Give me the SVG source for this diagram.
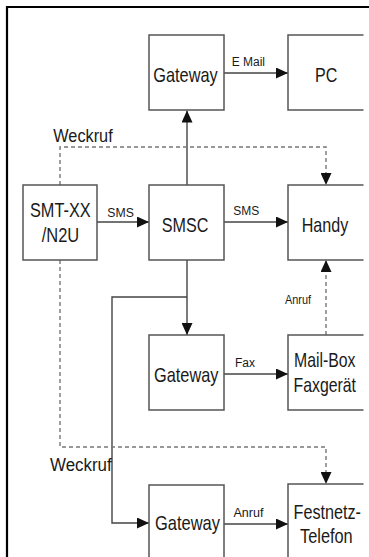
<svg xmlns="http://www.w3.org/2000/svg" width="369" height="557" viewBox="0 0 369 557">
<style>
.box{fill:#fff;stroke:#555;stroke-width:1.5}
.open{fill:none;stroke:#555;stroke-width:1.5}
.t{font-family:"Liberation Sans",Arial,sans-serif;font-size:21px;fill:#1a1a1a}
.w{font-family:"Liberation Sans",Arial,sans-serif;font-size:18px;fill:#1a1a1a}
.s{font-family:"Liberation Sans",Arial,sans-serif;font-size:12.5px;fill:#1a1a1a}
.c{fill:none;stroke:#444;stroke-width:1.4}
.d{fill:none;stroke:#777;stroke-width:1.4;stroke-dasharray:4 3}
</style>
<defs>
<marker id="ah" viewBox="0 0 12 11" refX="12" refY="5.5" markerWidth="12" markerHeight="11" markerUnits="userSpaceOnUse" orient="auto">
<path d="M0,0 L12,5.5 L0,11 Z" fill="#111"/>
</marker>
</defs>
<rect width="369" height="557" fill="#fff"/>
<path d="M7,557 V7 H369" fill="none" stroke="#000" stroke-width="2.2"/>

<g id="connectors">
<line class="c" x1="187" y1="185" x2="187" y2="110.5" marker-end="url(#ah)"/>
<line class="c" x1="224" y1="73" x2="288" y2="73" marker-end="url(#ah)"/>
<line class="c" x1="97" y1="222" x2="149" y2="222" marker-end="url(#ah)"/>
<line class="c" x1="224" y1="222" x2="288" y2="222" marker-end="url(#ah)"/>
<line class="c" x1="187" y1="260" x2="187" y2="335" marker-end="url(#ah)"/>
<path class="c" d="M187,297 H112 V523 H149" marker-end="url(#ah)"/>
<line class="c" x1="224" y1="374" x2="288" y2="374" marker-end="url(#ah)"/>
<line class="c" x1="224" y1="524" x2="288" y2="524" marker-end="url(#ah)"/>
<path class="d" d="M60,185 V147 H326 V185" marker-end="url(#ah)"/>
<line class="d" x1="326" y1="335" x2="326" y2="260" marker-end="url(#ah)"/>
<path class="d" d="M60,260 V447 H326 V484" marker-end="url(#ah)"/>
<text class="s" x="231.7" y="65.7" textLength="33.3" lengthAdjust="spacingAndGlyphs">E Mail</text>
<text class="w" x="53.3" y="141.7" textLength="59.4" lengthAdjust="spacingAndGlyphs">Weckruf</text>
<text class="s" x="107.3" y="216.7" textLength="26.5" lengthAdjust="spacingAndGlyphs">SMS</text>
<text class="s" x="233.3" y="214.5" textLength="26" lengthAdjust="spacingAndGlyphs">SMS</text>
<text class="s" x="285" y="304" textLength="26" lengthAdjust="spacingAndGlyphs">Anruf</text>
<text class="s" x="235" y="366.7" textLength="20" lengthAdjust="spacingAndGlyphs">Fax</text>
<text class="w" x="50" y="470.7" textLength="61.7" lengthAdjust="spacingAndGlyphs">Weckruf</text>
<text class="s" x="233.5" y="516.7" textLength="30" lengthAdjust="spacingAndGlyphs">Anruf</text>
</g>

<g id="gateway-top">
<rect class="box" x="149" y="35" width="75" height="75"/>
<text class="t" x="153.3" y="81.5" textLength="64.4" lengthAdjust="spacingAndGlyphs">Gateway</text>
</g>
<g id="pc">
<path class="open" d="M363.5,35 H288 V110 H363.5"/>
<text class="t" x="315" y="81.5" textLength="22.3" lengthAdjust="spacingAndGlyphs">PC</text>
</g>
<g id="smt">
<rect class="box" x="23" y="185" width="74" height="75"/>
<text class="t" x="30" y="216.7" textLength="60.7" lengthAdjust="spacingAndGlyphs">SMT-XX</text>
<text class="t" x="41.7" y="241.7" textLength="37.6" lengthAdjust="spacingAndGlyphs">/N2U</text>
</g>
<g id="smsc">
<rect class="box" x="149" y="185" width="75" height="75"/>
<text class="t" x="161.7" y="231.7" textLength="46.6" lengthAdjust="spacingAndGlyphs">SMSC</text>
</g>
<g id="handy">
<path class="open" d="M363.5,185 H288 V260 H363.5"/>
<text class="t" x="301.7" y="231.7" textLength="46.6" lengthAdjust="spacingAndGlyphs">Handy</text>
</g>
<g id="gateway-mid">
<rect class="box" x="149" y="335" width="75" height="75"/>
<text class="t" x="154" y="381.5" textLength="64.4" lengthAdjust="spacingAndGlyphs">Gateway</text>
</g>
<g id="mailbox">
<path class="open" d="M363.5,335 H288 V410 H363.5"/>
<text class="t" x="294" y="367.3" textLength="61.5" lengthAdjust="spacingAndGlyphs">Mail-Box</text>
<text class="t" x="293.5" y="392.3" textLength="62.5" lengthAdjust="spacingAndGlyphs">Faxgerät</text>
</g>
<g id="gateway-bottom">
<path class="open" d="M149,558 V485 H224 V558"/>
<text class="t" x="155" y="530" textLength="65" lengthAdjust="spacingAndGlyphs">Gateway</text>
</g>
<g id="festnetz">
<path class="open" d="M288,558 V484 H363.5"/>
<text class="t" x="293.5" y="519.3" textLength="67.5" lengthAdjust="spacingAndGlyphs">Festnetz-</text>
<text class="t" x="300" y="542.7" textLength="52.7" lengthAdjust="spacingAndGlyphs">Telefon</text>
</g>
</svg>
